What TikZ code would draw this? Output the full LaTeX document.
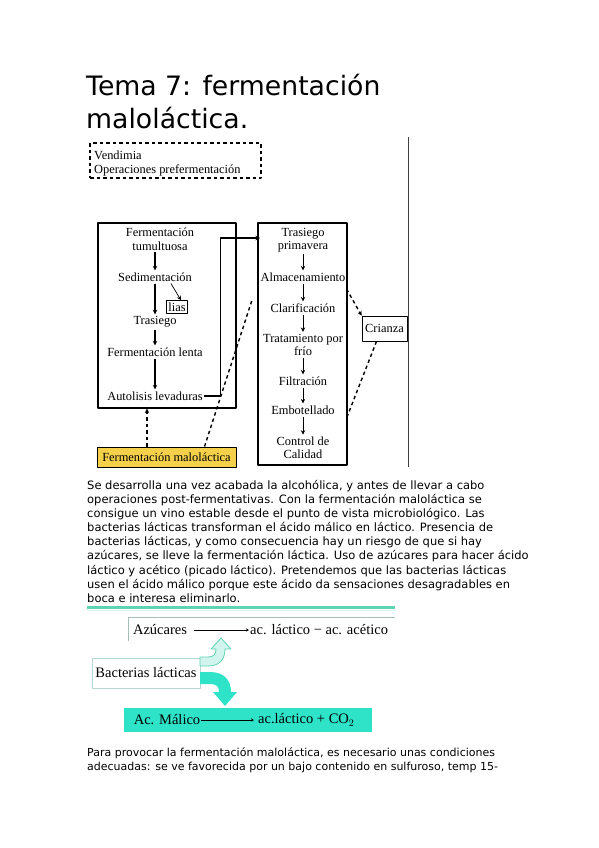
\documentclass[tikz,border=0pt]{standalone}
\usepackage{fontspec}
\setmainfont{Liberation Serif}
\newfontfamily\dejavu{DejaVu Sans}
\usetikzlibrary{arrows.meta}
\definecolor{amarillo}{HTML}{F5D04A}
\definecolor{turquesa}{HTML}{2EE3C8}
\definecolor{aguamarina}{HTML}{D2F4EE}
\definecolor{verdelinea}{HTML}{5ED4B4}
\definecolor{grisborde}{HTML}{B5D9D2}
\begin{document}
\begin{tikzpicture}[x=1pt,y=-1pt,line join=round,>={Stealth[length=4.5pt,width=4.5pt]}]
\tikzset{caja/.style={draw=black,line width=1.1pt,rectangle,inner sep=0pt},
  t/.style={font=\fontsize{12.4}{13.5}\selectfont,align=center,inner sep=1pt},
  tt/.style={font=\fontsize{14.5}{16}\selectfont,inner sep=1pt},
  parr/.style={font=\dejavu\fontsize{11}{14.1}\selectfont,align=left,anchor=north west,inner sep=0pt},
  rayas/.style={dash pattern=on 3.5pt off 3pt,line width=1.4pt}}
\useasboundingbox (0,0) rectangle (599,848);
% titulo
\node[font=\dejavu\fontsize{26.7}{33}\selectfont,align=left,anchor=north west,inner sep=0pt] (titulo) at (86,74) {Tema 7: fermentación\\maloláctica.};
% esquema superior
\draw[line width=1pt,black!75] (408.5,137) coordinate (vsup) -- (408.5,467) coordinate (vinf);
\node[caja,rayas,minimum width=171,minimum height=35] (vend) at (175.5,160.5) {};
\node[t,anchor=west] at (93,155) {Vendimia};
\node[t,anchor=west] at (93,170) {Operaciones prefermentación};
\node[caja,minimum width=138,minimum height=185] (cajaI) at (167,315.5) {};
\node[caja,minimum width=89,minimum height=242] (cajaD) at (302.5,344) {};
\path (160,239)node[t](tumul){Fermentación\\tumultuosa}
  (155,277)node[t](sedim){Sedimentación}
  (155,322)node[t](trasI){Trasiego}
  (155,352)node[t](lenta){Fermentación lenta}
  (155,396)node[t](autol){Autolisis levaduras};
\node[t,draw,line width=0.7pt,inner sep=2pt] (lias) at (177,307) {lias};
\path (303,240)node[t](prima){Trasiego\\primavera}
  (303,277)node[t](almac){Almacenamiento}
  (303,308)node[t](clari){Clarificación}
  (303,345)node[t](frio){Tratamiento por\\frío}
  (303,381)node[t](filtr){Filtración}
  (303,410)node[t](embot){Embotellado}
  (303,448)node[t](calid){Control de\\Calidad};
\foreach \x/\y in {tumul/sedim,sedim/trasI,trasI/lenta,lenta/autol}{
  \draw[->,line width=1.3pt,shorten <=1pt,shorten >=1pt] (\x.south -| 155,0) -- (\y.north -| 155,0);}
\foreach \x/\y in {prima/almac,almac/clari,clari/frio,frio/filtr,filtr/embot,embot/calid}{
  \draw[->,line width=0.9pt,shorten <=1pt,shorten >=1pt] (\x.south) -- (\y.north);}
\draw[->,line width=0.7pt] (sedim.south) ++(16,1) -- ([xshift=4pt]lias.north);
\coordinate (entrada) at (260,238);
\draw[->,line width=1.1pt] (autol.east) -- ++(17,0) |- (entrada);
\node[t,draw,line width=0.8pt,minimum width=45,minimum height=25,inner sep=0pt] (crian) at (384.5,328.5) {Crianza};
\node[t,caja,line width=0.9pt,fill=amarillo,minimum width=139,minimum height=20] (malo) at (166.5,457) {Fermentación maloláctica};
\draw[rayas,->] (almac.east) ++(0,12) -- (crian.north west);
\draw[rayas] (crian.south) ++(-8,0) -- (cajaD.east |- embot.south);
\draw[rayas] (malo.north) ++(38,0) -- (252,300);
\draw[rayas,->] (malo.north -| 147,0) -- (cajaI.south -| 147,0);
% texto
\node[parr,font=\dejavu\fontsize{11.5}{14.1}\selectfont] (parrafo) at (87,480) {Se desarrolla una vez acabada la alcohólica, y antes de llevar a cabo\\
operaciones post-fermentativas. Con la fermentación maloláctica se\\
consigue un vino estable desde el punto de vista microbiológico. Las\\
bacterias lácticas transforman el ácido málico en láctico. Presencia de\\
bacterias lácticas, y como consecuencia hay un riesgo de que si hay\\
azúcares, se lleve la fermentación láctica. Uso de azúcares para hacer ácido\\
láctico y acético (picado láctico). Pretendemos que las bacterias lácticas\\
usen el ácido málico porque este ácido da sensaciones desagradables en\\
boca e interesa eliminarlo.};
\draw[verdelinea,line width=2.5pt] (87,607.5) -- (395,607.5);
\draw[aguamarina,line width=1pt] (87,610.5) -- (395,610.5);
% esquema inferior
\draw[grisborde!70!gray,line width=0.6pt] (128,641) -- (128,617) -- (395,617);
\node[tt] (azuc) at (160,630) {Azúcares};
\node[tt,anchor=west] (acet) at (249,630) {ac. láctico − ac. acético};
\draw[->,line width=0.5pt,>={Stealth[length=3pt,width=3pt]}] (azuc.east) ++(6,0) -- (acet.west);
\node[tt,draw=grisborde,line width=1pt,fill=white,minimum width=108,minimum height=30] (bact) at (146,673) {Bacterias lácticas};
\filldraw[fill=aguamarina,draw=verdelinea,line width=0.8pt] (200,657) -- (208,657)
  .. controls (214,657) and (216,654) .. (216,649) -- (211,649) -- (221,638) -- (231,649) -- (225,649)
  .. controls (225,660) and (219,666) .. (208,666) -- (200,666) -- cycle;
\fill[turquesa] (200,672) -- (210,672) .. controls (224,672) and (231,680) .. (231,692)
  -- (237,692) -- (225,706) -- (213,692) -- (219,692)
  .. controls (219,686) and (216,684) .. (210,684) -- (200,684) -- cycle;
\node[fill=turquesa,minimum width=248,minimum height=24,inner sep=0pt] (malico) at (248,720) {};
\node[tt] (acmal) at (167,720) {Ac. Málico};
\node[tt,anchor=west] (lacti) at (257,720) {ac.láctico + CO$_2$};
\draw[->,line width=0.5pt,>={Stealth[length=3pt,width=3pt]},shorten >=3pt] (acmal.east) -- (lacti.west);
\node[parr] (parrafo2) at (87,747) {Para provocar la fermentación maloláctica, es necesario unas condiciones\\
adecuadas: se ve favorecida por un bajo contenido en sulfuroso, temp 15-};
\end{tikzpicture}
\end{document}
